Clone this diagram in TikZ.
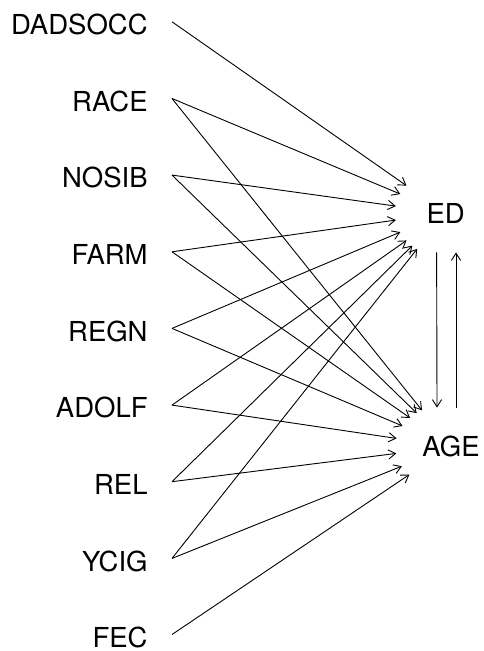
\documentclass[tikz,border=0pt]{standalone}
\usepackage{fontspec}
\setmainfont{TeX Gyre Heros}
\usetikzlibrary{arrows.meta,shapes.geometric}
\begin{document}
\begin{tikzpicture}[x=0.5pt,y=-0.5pt,
  lbl/.style={anchor=base east,inner sep=0pt,font=\fontsize{13.75}{16}\selectfont},
  tgt/.style={ellipse,inner sep=0pt,font=\fontsize{13.75}{16}\selectfont},
  arr/.style={-{Straight Barb[length=3.6pt,width=4.6pt]},line width=0.45pt}]
\useasboundingbox (0,0) rectangle (483,651);
\node[lbl] (dadsocc) at (148,34.5) {DADSOCC};
\node[lbl] (race)  at (148,111.2) {RACE};
\node[lbl] (nosib) at (148,187.8) {NOSIB};
\node[lbl] (farm)  at (148,264.5) {FARM};
\node[lbl] (regn)  at (148,341.1) {REGN};
\node[lbl] (adolf) at (148,417.8) {ADOLF};
\node[lbl] (rel)   at (148,494.4) {REL};
\node[lbl] (ycig)  at (148,571.1) {YCIG};
\node[lbl] (fec)   at (148,647.2) {FEC};
\node[tgt,minimum width=50pt,minimum height=43pt] (ed) at (445.6,213) {ED};
\node[tgt,minimum width=55pt,minimum height=42pt] (age) at (451,446.5) {AGE};
\foreach \s in {dadsocc,race,nosib,farm,regn,adolf,rel,ycig}
  \draw[arr] ([shift={(24,-12.7)}]\s.base east) -- (ed);
\foreach \s in {race,nosib,farm,regn,adolf,rel,ycig,fec}
  \draw[arr] ([shift={(24,-12.7)}]\s.base east) -- (age);
\draw[arr] ([shift={(-9,-4)}]ed.south) -- ([shift={(-14,3.5)}]age.north);
\draw[arr] ([shift={(5,3.5)}]age.north) -- ([shift={(10.4,-4)}]ed.south);
\end{tikzpicture}
\end{document}
